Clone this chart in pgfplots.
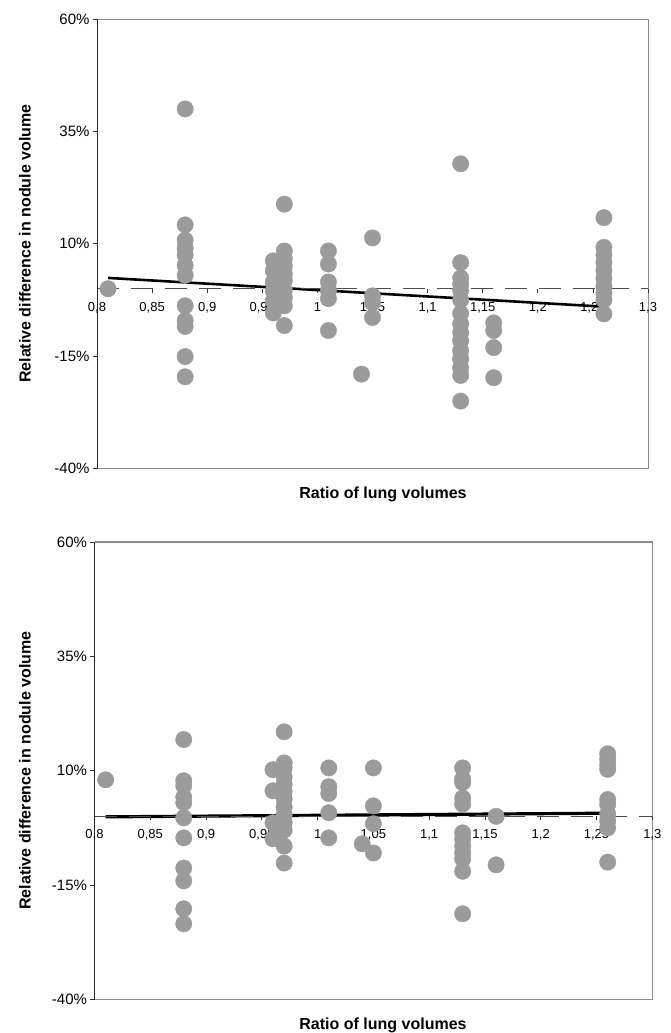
\documentclass[border=0pt]{standalone}
\usepackage{fontspec}
\setmainfont{Liberation Sans}
\usepackage{pgfplots}
\pgfplotsset{compat=1.18}
\definecolor{dotgray}{HTML}{9B9B9B}
\definecolor{framegray}{HTML}{8C8C8C}
\pgfplotsset{
  myaxis/.style={
    scale only axis,
    anchor=south west,
    axis on top,
    xmin=0.8, xmax=1.3, ymin=-40, ymax=60,
    axis x line=middle, axis y line=left,
    x axis line style={-, draw=black!70, line width=0.8pt, dash pattern=on 22pt off 12pt},
    y axis line style={-, draw=black!85, line width=1pt},
    xtick={0.8,0.85,0.9,0.95,1,1.05,1.1,1.15,1.2,1.25,1.3},
    xticklabels={{0,8},{0,85},{0,9},{0,95},{1},{1,05},{1,1},{1,15},{1,2},{1,25},{1,3}},
    ytick={-40,-15,10,35,60},
    yticklabels={-40\%,-15\%,10\%,35\%,60\%},
    hide obscured x ticks=false, hide obscured y ticks=false,
    tick align=outside,
    major tick length=4pt,
    tick style={black!80, line width=0.8pt},
    xticklabel style={font=\fontsize{13}{15}\selectfont, yshift=-6pt},
    yticklabel style={font=\fontsize{15}{18}\selectfont},
    clip=false,
  },
  dots/.style={only marks, mark=*, mark size=8.2pt, color=dotgray, draw=dotgray, fill=dotgray},
}
\begin{document}
\begin{tikzpicture}
\useasboundingbox (0,0) rectangle (670pt,-1033pt);
% ---------------- top panel ----------------
\begin{axis}[myaxis, at={(97pt,-468.5pt)}, width=551pt, height=449.5pt]
\draw[framegray, line width=1pt] (rel axis cs:0,0) -- (rel axis cs:1,0) -- (rel axis cs:1,1) -- (rel axis cs:0,1);
\addplot[dots] table {
x y
0.81 0
0.88 40
0.88 14.2
0.88 10.8
0.88 9
0.88 7.5
0.88 5.2
0.88 3
0.88 -3.8
0.88 -7.1
0.88 -8.4
0.88 -15.1
0.88 -19.6
0.96 6.2
0.96 4
0.96 1.5
0.96 -0.5
0.96 -2.7
0.96 -5.4
0.97 18.8
0.97 8.4
0.97 6.7
0.97 5
0.97 3.3
0.97 1.8
0.97 -0.4
0.97 -2
0.97 -3.8
0.97 -8.2
1.01 8.4
1.01 5.5
1.01 1.5
1.01 -0.4
1.01 -2.2
1.01 -9.3
1.04 -19
1.05 11.3
1.05 -1.6
1.05 -3.1
1.05 -6.4
1.13 27.8
1.13 5.8
1.13 2.4
1.13 1
1.13 -0.4
1.13 -2.5
1.13 -5.5
1.13 -7.8
1.13 -9.8
1.13 -11.6
1.13 -13.8
1.13 -15.6
1.13 -17.6
1.13 -19.3
1.13 -25
1.16 -7.6
1.16 -9.3
1.16 -13.1
1.16 -19.8
1.26 15.8
1.26 9.2
1.26 7.5
1.26 5.8
1.26 4
1.26 2.2
1.26 0.5
1.26 -1
1.26 -2.5
1.26 -5.6
};
\addplot[black, line width=2.6pt] coordinates {(0.81,2.4) (1.26,-4)};
\end{axis}
\node[rotate=90, font=\bfseries\fontsize{16}{19}\selectfont] at (25pt,-243.7pt) {Relative difference in nodule volume};
\node[font=\bfseries\fontsize{16}{19}\selectfont] at (383pt,-494pt) {Ratio of lung volumes};
% ---------------- bottom panel ----------------
\begin{axis}[myaxis, at={(94.5pt,-999.3pt)}, width=557.8pt, height=457.3pt]
\draw[framegray, line width=1pt] (rel axis cs:0,0) -- (rel axis cs:1,0) -- (rel axis cs:1,1) -- (rel axis cs:0,1);
\addplot[dots] table {
x y
0.81 8
0.88 16.8
0.88 7.8
0.88 6.7
0.88 4.2
0.88 3
0.88 -0.3
0.88 -4.7
0.88 -11.3
0.88 -14.1
0.88 -20.2
0.88 -23.5
0.96 10.2
0.96 5.6
0.96 -1.4
0.96 -4.9
0.97 18.5
0.97 11.7
0.97 10.6
0.97 8.6
0.97 7
0.97 5.4
0.97 3.8
0.97 2
0.97 0.3
0.97 -1.4
0.97 -3
0.97 -6.5
0.97 -10.2
1.01 10.6
1.01 6.5
1.01 5
1.01 0.8
1.01 -4.7
1.04 -6
1.05 10.6
1.05 2.3
1.05 -1.6
1.05 -8
1.13 10.6
1.13 8.2
1.13 7.4
1.13 4
1.13 2.7
1.13 -3.6
1.13 -4.9
1.13 -6.5
1.13 -8
1.13 -9.3
1.13 -12
1.13 -21.3
1.16 0
1.16 -10.6
1.26 13.7
1.26 12.5
1.26 11.3
1.26 10.3
1.26 3.7
1.26 2.6
1.26 0.5
1.26 -1
1.26 -2.5
1.26 -10
};
\addplot[black, line width=3.2pt] coordinates {(0.81,-0.1) (1.26,0.7)};
\end{axis}
\node[rotate=90, font=\bfseries\fontsize{16}{19}\selectfont] at (25pt,-770.6pt) {Relative difference in nodule volume};
\node[font=\bfseries\fontsize{16}{19}\selectfont] at (383pt,-1025pt) {Ratio of lung volumes};
\end{tikzpicture}
\end{document}
